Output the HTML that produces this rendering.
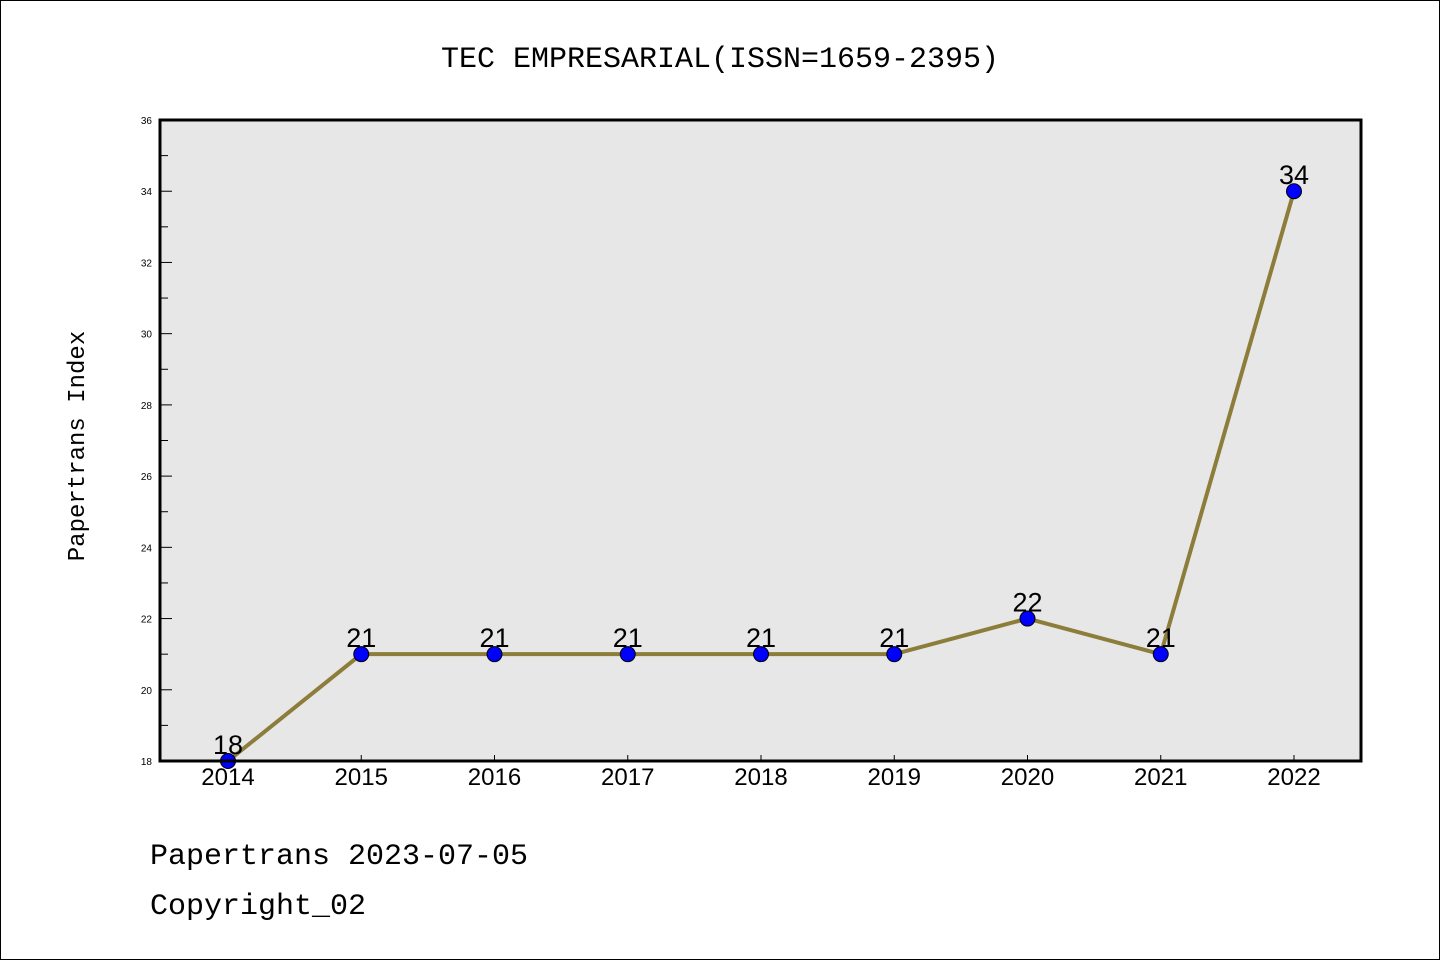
<!DOCTYPE html>
<html><head><meta charset="utf-8"><style>
body{margin:0;background:#fff}
svg{display:block}
</style></head><body>
<svg id="chart" width="1440" height="960">
<rect x="0.5" y="0.5" width="1439" height="959" fill="#fff" stroke="#000"/>
<text x="720" y="67" text-anchor="middle" font-family="'Liberation Mono','WenQuanYi Zen Hei',monospace" font-size="30">TEC EMPRESARIAL(ISSN=1659-2395)</text>
<rect x="160" y="120" width="1201" height="641" fill="#e7e7e7"/>
<g id="axes"></g>
<g id="series"></g>
<rect x="160" y="120" width="1201" height="641" fill="none" stroke="#000" stroke-width="3"/>
<text transform="translate(84,446) rotate(-90)" text-anchor="middle" font-family="'Liberation Mono',monospace" font-size="24">Papertrans Index</text>
<text x="150" y="864" font-family="'Liberation Mono',monospace" font-size="30">Papertrans 2023-07-05</text>
<text x="150" y="914" font-family="'Liberation Mono',monospace" font-size="30">Copyright_02</text>
</svg>
<script>
const years=[2014,2015,2016,2017,2018,2019,2020,2021,2022];
const values=[18,21,21,21,21,21,22,21,34];
const yTicks=[18,20,22,24,26,28,30,32,34,36];
const NS="http://www.w3.org/2000/svg";
const yMin=18,yMax=36,plotTop=120,plotBot=761;
const yS=v=>plotBot-(v-yMin)/(yMax-yMin)*(plotBot-plotTop);
const xS=i=>228+i*(1294-228)/(years.length-1);
function mk(t,a,p){const e=document.createElementNS(NS,t);for(const k in a)e.setAttribute(k,a[k]);p.appendChild(e);return e;}
const ax=document.getElementById('axes'),se=document.getElementById('series');
yTicks.forEach(v=>{
 const l=mk('line',{x1:160,x2:172,y1:yS(v),y2:yS(v),stroke:'#000','stroke-width':1},ax);
 
 
 const t=mk('text',{x:152,y:yS(v)+4,'text-anchor':'end','font-family':'Liberation Sans,sans-serif','font-size':10},ax);
 t.textContent=v;
 
 
 if(v<yMax){const m=mk('line',{x1:160,x2:168,y1:yS(v+1),y2:yS(v+1),stroke:'#000','stroke-width':1},ax);
 
 }
});
years.forEach((y,i)=>{
 const l=mk('line',{x1:xS(i),x2:xS(i),y1:761,y2:755,stroke:'#000','stroke-width':1},ax);
 
 
 const t=mk('text',{x:xS(i),y:785,'text-anchor':'middle','font-family':'Liberation Sans,sans-serif','font-size':24},ax);
 t.textContent=y;
 
 
});
const pl=mk('polyline',{points:values.map((v,i)=>xS(i)+','+yS(v)).join(' '),fill:'none',stroke:'#8c7d3a','stroke-width':4},se);


values.forEach((v,i)=>{
 const c=mk('circle',{cx:xS(i),cy:yS(v),r:7.5,fill:'#0000ff',stroke:'#000','stroke-width':1},se);
 
 
 const t=mk('text',{x:xS(i),y:yS(v)-7,'text-anchor':'middle','font-family':'Liberation Sans,sans-serif','font-size':27},se);
 t.textContent=v;
 
 
});
</script>
</body></html>
